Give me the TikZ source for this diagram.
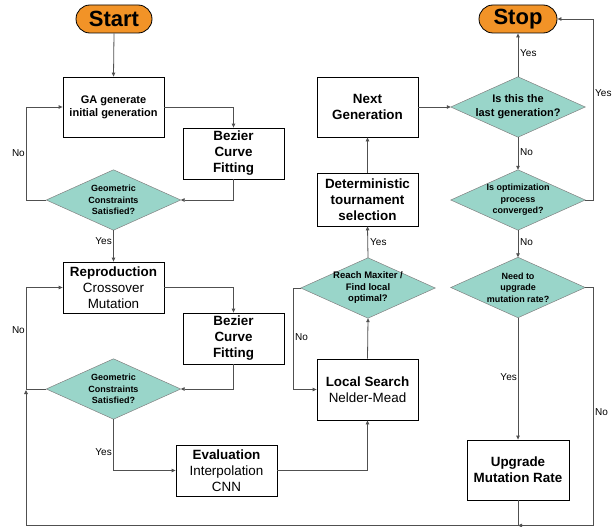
\documentclass[tikz,border=0pt]{standalone}
\usepackage{fontspec}
\setmainfont{Liberation Sans}
\usetikzlibrary{arrows.meta,backgrounds}
\definecolor{orng}{HTML}{F29327}
\definecolor{teal1}{HTML}{99D5C9}
\definecolor{ln}{HTML}{505050}
\tikzset{
  pill/.style={draw=black, line width=0.8pt, fill=orng, rounded corners=14pt, minimum width=#1, minimum height=28pt, inner sep=0pt, font=\fontsize{22}{26}\selectfont\bfseries},
  box/.style={draw=black, line width=0.8pt, fill=white, minimum width=101pt, inner sep=0pt, align=center, font=\fontsize{13.4}{16}\selectfont},
  dia/.style={minimum width=134pt, minimum height=60pt, inner sep=0pt, align=center, font=\fontsize{9}{11.5}\selectfont\bfseries},
  diafill/.style={draw=black!50, line width=0.5pt, fill=teal1},
  con/.style={draw=ln, line width=0.8pt, -{Triangle[length=4pt,width=3.5pt]}},
  lab/.style={inner sep=0pt, font=\fontsize{10}{12}\selectfont}
}
\begin{document}
\begin{tikzpicture}[x=1pt,y=-1pt]
\useasboundingbox (0,0) rectangle (613,527);
% nodes
\node[pill=76pt] (start) at (114,19) {Start};
\node[pill=78pt] (stop) at (518,19) {Stop};
\node[box, minimum height=60pt, font=\fontsize{11}{13}\selectfont\bfseries] (ga) at (113.5,107) {GA generate\\initial generation};
\node[box, minimum height=51pt, font=\fontsize{13.4}{16}\selectfont\bfseries] (bz1) at (233.5,153.5) {Bezier\\Curve\\Fitting};
\node[dia] (d1) at (113.5,200) {Geometric\\Constraints\\Satisfied?};
\node[box, minimum height=51pt] (rep) at (113.5,287.5) {\textbf{Reproduction}\\Crossover\\Mutation};
\node[box, minimum height=51pt, font=\fontsize{13.4}{16}\selectfont\bfseries] (bz2) at (233.5,338.5) {Bezier\\Curve\\Fitting};
\node[dia] (d2) at (113.5,389) {Geometric\\Constraints\\Satisfied?};
\node[box, minimum height=51pt] (ev) at (226.5,470.5) {\textbf{Evaluation}\\Interpolation\\CNN};
\node[box, minimum height=61pt] (ls) at (367.5,389.5) {\textbf{Local Search}\\Nelder-Mead};
\node[dia, font=\fontsize{9.5}{11.5}\selectfont\bfseries] (d3) at (368,288) {Reach Maxiter /\\Find local\\optimal?};
\node[box, minimum height=53pt, font=\fontsize{13.4}{16}\selectfont\bfseries] (det) at (367.5,199.5) {Deterministic\\tournament\\selection};
\node[box, minimum height=60pt, font=\fontsize{13.4}{16}\selectfont\bfseries] (ng) at (367.5,107) {Next\\Generation};
\node[dia, font=\fontsize{11}{14}\selectfont\bfseries] (d5) at (518,107) {Is this the\\last generation?};
\node[dia] (d6) at (518,200) {Is optimization\\process\\converged?};
\node[dia] (d4) at (518,287.5) {Need to\\upgrade\\mutation rate?};
\node[box, minimum width=102pt, minimum height=60pt, font=\fontsize{13.4}{16}\selectfont\bfseries] (upg) at (518,470) {Upgrade\\Mutation Rate};
% diamond shapes
\begin{scope}[on background layer]
\foreach \n in {d1,d2,d3,d4,d5,d6}
  \draw[diafill] (\n.west) -- (\n.north) -- (\n.east) -- (\n.south) -- cycle;
\end{scope}
% helper coordinates
\coordinate (lx) at (26,0);
\coordinate (mx) at (293,0);
\coordinate (tr) at (593,19);
\coordinate (rr) at (593,525.5);
\coordinate (bl) at (26,525.5);
\coordinate (lj) at (26,390);
% connectors
\draw[con] (start.south) -- (ga.north);
\draw[con] (ga.east) -| (bz1.north);
\draw[con] (bz1.south) |- (d1.east);
\draw[con] (d1.west) -- (d1.west -| lx) |- (ga.west);
\draw[con] (d1.south) -- (rep.north);
\draw[con] (rep.east) -| (bz2.north);
\draw[con] (bz2.south) |- (d2.east);
\draw[con] (d2.west) -- (d2.west -| lx) |- (rep.west);
\draw[con] (d2.south) |- (ev.west);
\draw[con] (ev.east) -| (ls.south);
\draw[con] (d3.west) -- (d3.west -| mx) |- (ls.west);
\draw[con] (ls.north) -- (d3.south);
\draw[con] (d3.north) -- (det.south);
\draw[con] (det.north) -- (ng.south);
\draw[con] (ng.east) -- (d5.west);
\draw[con] (d5.north) -- (stop.south);
\draw[con] (d5.south) -- (d6.north);
\draw[con] (d6.east) -| (tr) -- (stop.east);
\draw[con] (d6.south) -- (d4.north);
\draw[con] (d4.south) -- (upg.north);
\draw[con] (d4.east) -| (rr) -- (upg.south |- rr);
\draw[con] (upg.south) -- (upg.south |- bl) -- (bl) -- (lj);
% labels
\node[lab, anchor=east] (l1) at (25,153) {No};
\node[lab, anchor=east] (l2) at (112,241) {Yes};
\node[lab, anchor=east] (l3) at (25,330) {No};
\node[lab, anchor=east] (l4) at (112,452) {Yes};
\node[lab, anchor=west] (l5) at (295,337) {No};
\node[lab, anchor=west] (l6) at (370,242) {Yes};
\node[lab, anchor=west] (l7) at (520,53) {Yes};
\node[lab, anchor=west] (l8) at (520,152) {No};
\node[lab, anchor=west] (l9) at (595,93) {Yes};
\node[lab, anchor=west] (l10) at (520,242) {No};
\node[lab, anchor=east] (l11) at (517,377) {Yes};
\node[lab, anchor=west] (l12) at (595,412) {No};
\end{tikzpicture}
\end{document}
